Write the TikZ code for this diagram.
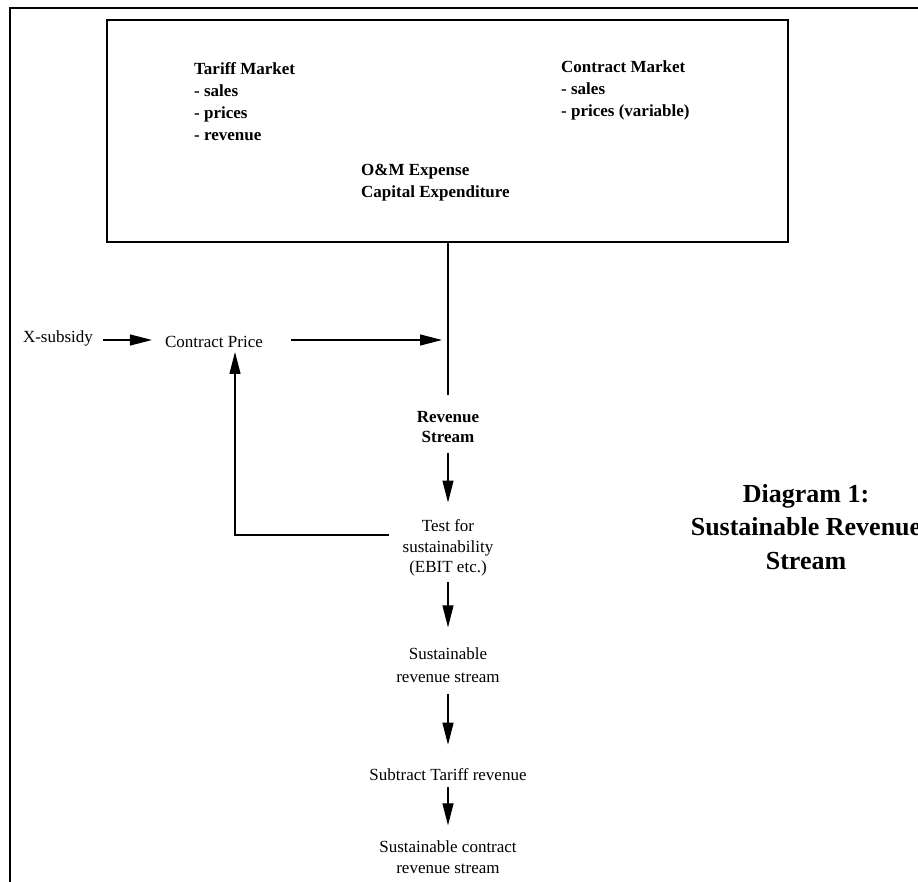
\documentclass[tikz,border=0pt]{standalone}
\usepackage{fontspec}
\setmainfont{Liberation Serif}
\usetikzlibrary{arrows.meta}
\begin{document}
\begin{tikzpicture}[x=1pt,y=-1pt,
  frame/.style={line width=1.6pt},
  conn/.style={line width=1.2pt},
  arr/.style={line width=1.2pt, -{Triangle[length=22pt,width=11pt]}},
  txt/.style={font=\fontsize{17}{20.5}\selectfont, inner sep=0pt, align=center},
  btxt/.style={font=\fontsize{17}{22}\selectfont\bfseries, inner sep=0pt, align=left},
  title/.style={font=\fontsize{26}{33.5}\selectfont\bfseries, inner sep=0pt, align=center}
  ]
\useasboundingbox (0,0) rectangle (918,882);
\fill[white] (0,0) rectangle (918,882);
% outer frame
\draw[frame] (10,882) -- (10,8) -- (918,8);
% main box
\node[draw, frame, minimum width=681pt, minimum height=222pt, inner sep=0pt] (box) at (447.5,131) {};
\node[btxt, anchor=north west] (tariff) at (194,62.5) {Tariff Market\\- sales\\- prices\\- revenue};
\node[btxt, anchor=north west] (contract) at (561,60.5) {Contract Market\\- sales\\- prices (variable)};
\node[btxt, anchor=north west] (om) at (361,164) {O\&M Expense\\Capital Expenditure};
% left inputs
\node[txt, anchor=base] (xsub) at (58,343) {X-subsidy};
\node[txt, anchor=base] (cp) at (214,348) {Contract Price};
% flow column
\node[txt, font=\fontsize{17}{20}\selectfont\bfseries] (rev) at (448,427) {Revenue\\Stream};
\node[txt] (test) at (448,548) {Test for\\sustainability\\(EBIT etc.)};
\node[txt, font=\fontsize{17}{23}\selectfont] (sust) at (448,665) {Sustainable\\revenue stream};
\node[txt] (sub) at (448,775) {Subtract Tariff revenue};
\node[txt, font=\fontsize{17}{21}\selectfont] (final) at (448,857) {Sustainable contract\\revenue stream};
% title
\node[title] (ttl) at (806,527) {Diagram 1:\\Sustainable Revenue\\Stream};
% coordinates
\coordinate (jn) at (448,340);
\coordinate (jend) at (448,395);
\coordinate (fb1) at (389,535);
\coordinate (fb2) at (235,352);
% connectors
\draw[conn] (jn |- box.south) -- (jend);
\draw[arr, shorten <=10pt, shorten >=13pt] (xsub.east |- jn) -- (cp.west |- jn);
\draw[arr, shorten <=28pt, shorten >=6pt] (cp.east |- jn) -- (jn);
\draw[arr] (fb1) -| (fb2);
\draw[arr, shorten <=10pt, shorten >=17pt] (rev.south) -- (test.north);
\draw[arr, shorten <=6pt, shorten >=20pt] (test.south) -- (sust.north);
\draw[arr, shorten <=11pt, shorten >=24pt] (sust.south) -- (sub.north);
\draw[arr, shorten <=6pt, shorten >=15pt] (sub.south) -- (final.north);
\end{tikzpicture}
\end{document}
